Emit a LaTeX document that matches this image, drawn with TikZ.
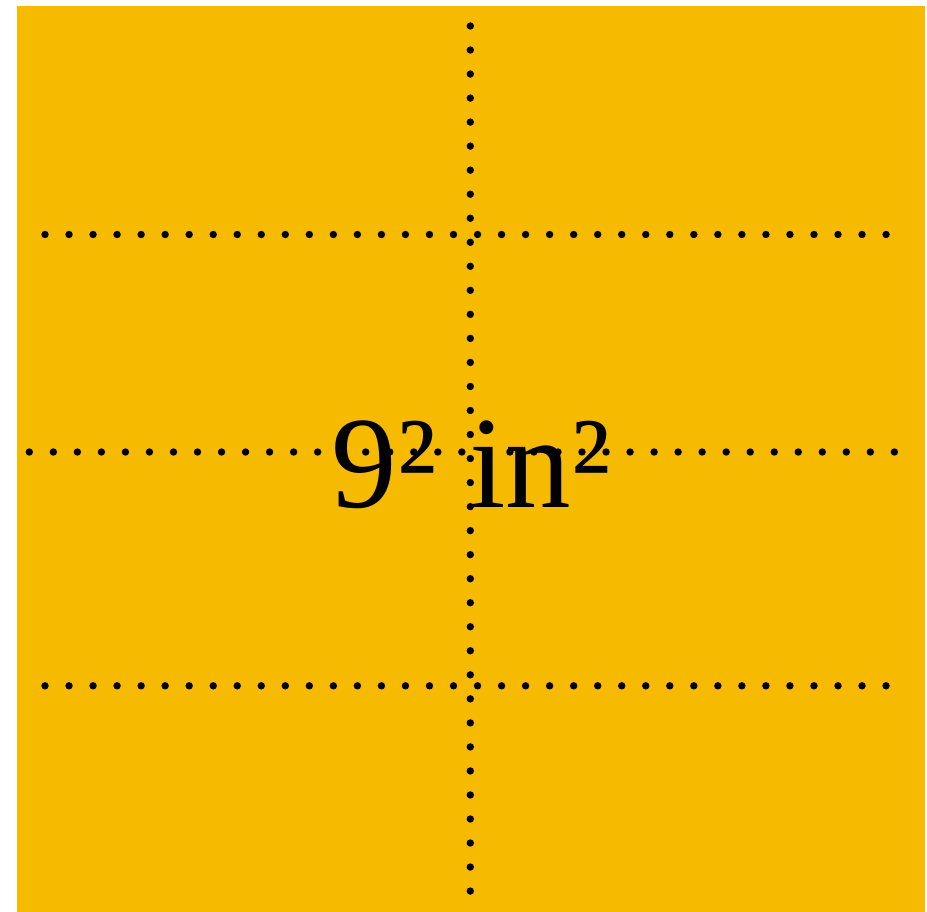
\documentclass[tikz,border=0pt]{standalone}
\usepackage{fontspec}
\setmainfont{Liberation Serif}
\usetikzlibrary{calc}
\definecolor{tilecolor}{RGB}{246,186,0}
\tikzset{
  gdot/.style = {fill=black, draw=none},
  lbl/.style  = {font=\fontsize{131}{136}\selectfont, inner sep=0pt, anchor=base},
}

\begin{document}
\begin{tikzpicture}[x=1pt, y=-1pt]
  \useasboundingbox (0,0) rectangle (927,912);
  % square tile
  \fill[tilecolor] (16.5,6) rectangle (925,912);
  % dotted fold lines
  \foreach \i in {0,...,35} {
    \fill[gdot] ({45+\i*24.03}, 234.5) circle[radius=3.7pt];
    \fill[gdot] ({45+\i*24.03}, 685.8) circle[radius=3.7pt];
  }
  \foreach \i in {0,...,36} {
    \fill[gdot] ({29.3+\i*24.03}, 452) circle[radius=3.7pt];
    \fill[gdot] (470.3, {26+\i*24.03}) circle[radius=3.7pt];
  }
  % area label
  \node[lbl] (area) at (471, 507) {9² in²};
\end{tikzpicture}
\end{document}
